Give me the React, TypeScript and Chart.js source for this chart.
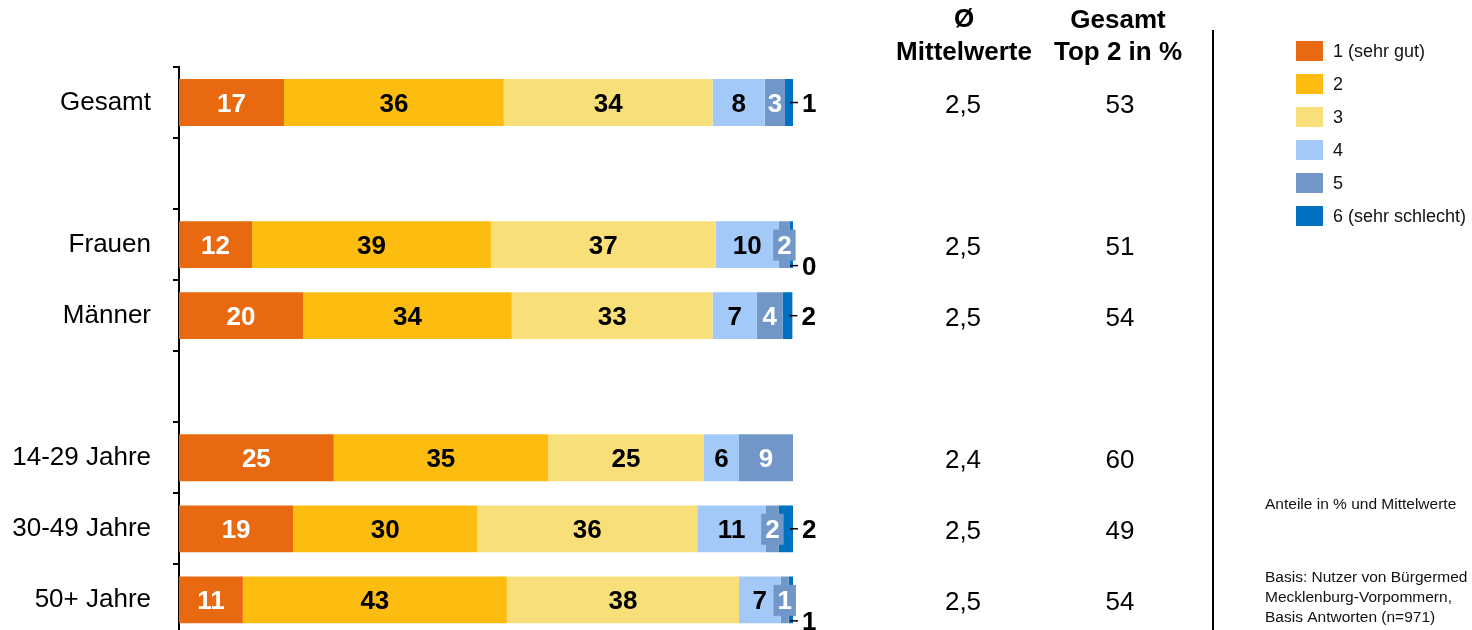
import React, { useEffect, useRef } from "react";
import { Chart, registerables } from "chart.js";

Chart.register(...registerables);

const categories = ["Gesamt", " ", "Frauen", "Männer", "  ", "14-29 Jahre", "30-49 Jahre", "50+ Jahre"];
const seriesNames = ["1 (sehr gut)", "2", "3", "4", "5", "6 (sehr schlecht)"];
const seriesColors = ["#E8690F", "#FDBD10", "#F8DF7A", "#A3C9F8", "#7097C8", "#0070C0"];

const s1 = [17.1, null, 11.9, 20.2, null, 25.2, 18.6, 10.4];
const s2 = [35.8, null, 38.9, 34.0, null, 34.9, 30.0, 43.0];
const s3 = [34.0, null, 36.6, 32.7, null, 25.4, 35.8, 37.8];
const s4 = [8.5, null, 10.3, 7.2, null, 5.7, 11.2, 6.8];
const s5 = [3.3, null, 1.8, 4.2, null, 8.8, 2.1, 1.3];
const s6 = [1.3, null, 0.5, 1.6, null, 0, 2.3, 0.7];

const l1 = [17, null, 12, 20, null, 25, 19, 11];
const l2 = [36, null, 39, 34, null, 35, 30, 43];
const l3 = [34, null, 37, 33, null, 25, 36, 38];
const l4 = [8, null, 10, 7, null, 6, 11, 7];
const l5 = [3, null, 2, 4, null, 9, 2, 1];
const l6 = [1, null, 0, 2, null, null, 2, 1];

const mittelwerte = ["2,5", "", "2,5", "2,5", "", "2,4", "2,5", "2,5"];
const top2 = ["53", "", "51", "54", "", "60", "49", "54"];

const series = [s1, s2, s3, s4, s5, s6];
const labelSets = [l1, l2, l3, l4, l5, l6];
const labelColors = ["#fff", "#000", "#000", "#000", "#fff", "#000"];

const FONT = '"Liberation Sans", Arial, sans-serif';

const overlayPlugin = {
  id: "overlay",
  afterDatasetsDraw(chart: any) {
    const ctx = chart.ctx;
    ctx.save();
    ctx.font = `bold 26px ${FONT}`;
    ctx.textBaseline = "middle";
    for (let j = 0; j < categories.length; j++) {
      let shiftLast = false;
      for (let i = 0; i < series.length; i++) {
        const lbl = labelSets[i][j];
        if (lbl === null || lbl === undefined) continue;
        const el = chart.getDatasetMeta(i).data[j];
        if (!el) continue;
        const p = el.getProps(["x", "y", "base"], true);
        const left = Math.min(p.x, p.base);
        const right = Math.max(p.x, p.base);
        const text = String(lbl);
        const w = ctx.measureText(text).width;
        if (i < 5) {
          const cx = (left + right) / 2;
          if (i === 4 && right - left < w + 2) {
            const bw = w + 8;
            ctx.fillStyle = seriesColors[4];
            ctx.fillRect(cx - bw / 2, p.y - 15, bw, 31);
            const endEl = chart.getDatasetMeta(5).data[j];
            const endX = endEl ? Math.max(endEl.getProps(["x"], true).x, right) : right;
            if (cx + bw / 2 > endX) shiftLast = true;
          }
          ctx.fillStyle = labelColors[i];
          ctx.textAlign = "center";
          ctx.fillText(text, cx, p.y + 2);
        } else {
          const y = p.y + (shiftLast ? 21 : 0);
          ctx.strokeStyle = "#000";
          ctx.lineWidth = 1.5;
          ctx.beginPath();
          ctx.moveTo(right - 3, y);
          ctx.lineTo(right + 5, y);
          ctx.stroke();
          ctx.fillStyle = "#000";
          ctx.textAlign = "left";
          ctx.fillText(text, right + 9, y + 2);
        }
      }
    }
    ctx.restore();
  },
  afterDraw(chart: any) {
    const ctx = chart.ctx;
    const yScale = chart.scales.y;
    ctx.save();
    ctx.fillStyle = "#000";
    ctx.textAlign = "center";
    ctx.textBaseline = "middle";
    ctx.font = `bold 26px ${FONT}`;
    ctx.fillText("Ø", 964, 20);
    ctx.fillText("Mittelwerte", 964, 53);
    ctx.fillText("Gesamt", 1118, 21);
    ctx.fillText("Top 2 in %", 1118, 53);
    ctx.font = `26px ${FONT}`;
    for (let j = 0; j < categories.length; j++) {
      const y = yScale.getPixelForValue(j) + 3;
      if (mittelwerte[j]) ctx.fillText(mittelwerte[j], 963, y);
      if (top2[j]) ctx.fillText(top2[j], 1120, y);
    }
    ctx.strokeStyle = "#000";
    ctx.lineWidth = 2;
    ctx.beginPath();
    ctx.moveTo(1213, 30);
    ctx.lineTo(1213, 680);
    ctx.stroke();
    ctx.textAlign = "left";
    ctx.font = `18px ${FONT}`;
    for (let i = 0; i < seriesNames.length; i++) {
      const cy = 51 + i * 33;
      ctx.fillStyle = seriesColors[i];
      ctx.fillRect(1296, cy - 10, 27, 20);
      ctx.fillStyle = "#111";
      ctx.fillText(seriesNames[i], 1333, cy + 1);
    }
    ctx.font = `15.5px ${FONT}`;
    ctx.fillText("Anteile in % und Mittelwerte", 1265, 505);
    ctx.fillText("Basis: Nutzer von Bürgermed", 1265, 578);
    ctx.fillText("Mecklenburg-Vorpommern,", 1265, 598);
    ctx.fillText("Basis Antworten (n=971)", 1265, 618);
    ctx.restore();
  },
};

export default function App() {
  const ref = useRef<HTMLCanvasElement>(null);
  useEffect(() => {
    if (!ref.current) return;
    const chart = new Chart(ref.current, {
      type: "bar",
      data: {
        labels: categories,
        datasets: series.map((d, i) => ({
          label: seriesNames[i],
          data: d as any,
          backgroundColor: seriesColors[i],
          borderWidth: 0,
          barPercentage: 0.66,
          categoryPercentage: 1,
          stack: "a",
        })),
      },
      options: {
        indexAxis: "y",
        animation: false,
        responsive: false,
        maintainAspectRatio: false,
        devicePixelRatio: 1,
        layout: { padding: { left: 0, right: 679, top: 67, bottom: 10 } },
        plugins: { legend: { display: false }, tooltip: { enabled: false } },
        scales: {
          x: { display: false, stacked: true, min: 0, max: 100 },
          y: {
            stacked: true,
            afterFit: (s: any) => {
              s.width = 179;
            },
            grid: {
              display: true,
              drawOnChartArea: false,
              drawTicks: true,
              tickLength: 6,
              color: "#000",
              lineWidth: 2,
              offset: true,
            },
            border: { display: true, color: "#000", width: 2 },
            ticks: {
              color: "#000",
              padding: 22,
              font: { family: FONT, size: 26 },
            },
          },
        },
      },
      plugins: [overlayPlugin],
    });
    return () => chart.destroy();
  }, []);
  return (
    <div style={{ position: "fixed", left: 0, top: 0, width: 1472, height: 630, overflow: "hidden", background: "#fff" }}>
      <canvas ref={ref} width={1472} height={673} style={{ display: "block", width: 1472, height: 673 }} />
    </div>
  );
}
